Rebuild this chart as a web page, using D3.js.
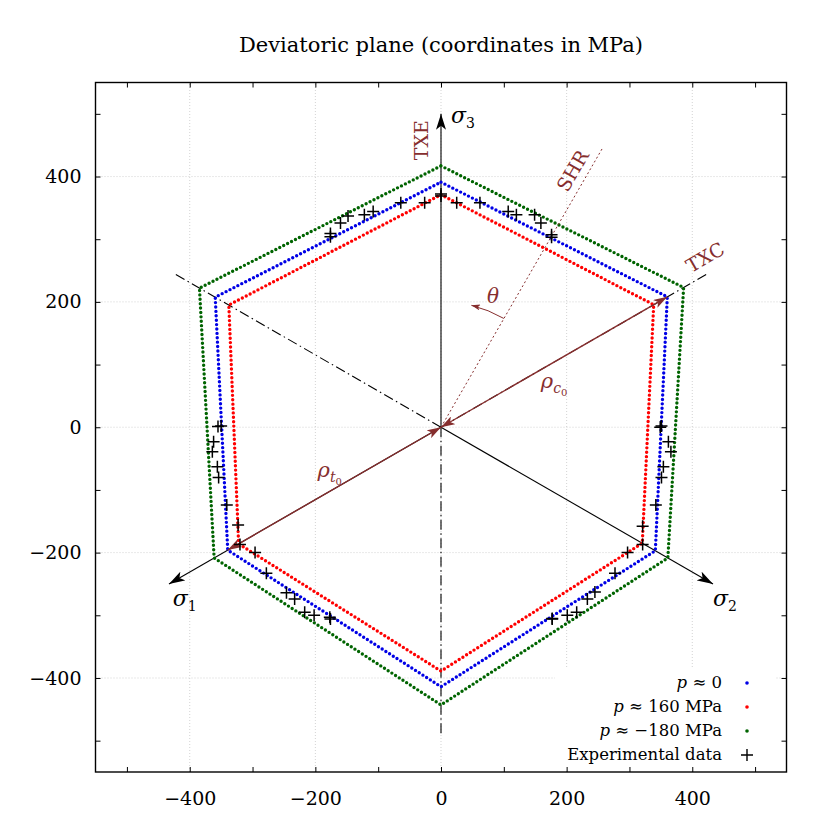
<!DOCTYPE html>
<html>
<head>
<meta charset="utf-8">
<script src="https://cdn.jsdelivr.net/npm/d3@7"></script>
<style>
  body { margin: 0; background: #fff; }
  text { font-family: "DejaVu Serif", "Liberation Serif", serif; }
</style>
</head>
<body>
<div id="chart"></div>
<script>
// directions of the hexagon vertices (deg, counter-clockwise from +x)
const vertexAngles = [90, 30, -30, -90, -150, 150];
// deviatoric radius at each vertex (MPa)
const rhoP0 = [391, 416, 394, 414, 392, 415];
const rhoP160 = [371, 391, 370, 389, 372, 390];
const rhoPm180 = [417, 446, 417, 443, 417, 444];

// experimental points (MPa)
const expX = [-176, -176, -160, -148, -122, -108, -64, -26, 0, 0, 25, 62, 107, 120, 149, 159, 176, 176,
  -355, -350, -362, -364, -356, -354, -341, -323, -320, -296,
  -278, -246, -233, -217, -202, -177, -176,
  351, 349, 362, 366, 354, 351, 342, 321, 321, 297,
  277, 245, 233, 216, 201, 177, 177];
const expY = [309, 304, 326, 337, 339, 344, 358, 358, 372, 369, 358, 358, 344, 339, 339, 326, 307, 303,
  1, 2, -23, -39, -63, -80, -124, -156, -187, -200,
  -233, -264, -274, -295, -300, -303, -306,
  2, 0, -23, -39, -63, -80, -124, -158, -187, -200,
  -233, -263, -274, -295, -300, -305, -306];

const xTicks = [-500, -400, -300, -200, -100, 0, 100, 200, 300, 400, 500];
const gridTicks = [-400, -200, 0, 200, 400];
const legendLabels = ['p ≈ 0', 'p ≈ 160 MPa', 'p ≈ −180 MPa', 'Experimental data'];
const seriesColors = ['#0000e6', '#ff0000', '#006400'];

const W = 831, H = 831;
const margin = {top: 82.5, right: 44.5, bottom: 59, left: 95.5};
const darkred = '#862e2e';

const svg = d3.select('#chart').append('svg')
  .attr('width', W).attr('height', H);

const x = d3.scaleLinear().domain([-550, 550]).range([margin.left, W - margin.right]);
const y = d3.scaleLinear().domain([-550, 550]).range([H - margin.bottom, margin.top]);
const rad = d => d * Math.PI / 180;
const polar = (r, a) => [r * Math.cos(rad(a)), r * Math.sin(rad(a))];

// markers
const defs = svg.append('defs');
function arrowMarker(id, color, len, wid) {
  defs.append('marker')
    .attr('id', id)
    .attr('viewBox', `0 ${-wid/2} ${len} ${wid}`)
    .attr('refX', len).attr('refY', 0)
    .attr('markerWidth', len).attr('markerHeight', wid)
    .attr('markerUnits', 'userSpaceOnUse')
    .attr('orient', 'auto-start-reverse')
    .append('path')
      .attr('d', `M0,${-wid/2}L${len},0L0,${wid/2}L${len*0.25},0Z`)
      .attr('fill', color);
}
arrowMarker('blackArrow', '#000', 16, 10);
arrowMarker('redArrow', darkred, 14, 9);
arrowMarker('redArrowSmall', darkred, 9, 6);

// grid
const grid = svg.append('g').attr('stroke', '#c8c8c8').attr('stroke-width', 0.8)
  .attr('stroke-dasharray', '1 2');
grid.selectAll('.gx').data(gridTicks).join('line')
  .attr('x1', d => x(d)).attr('x2', d => x(d))
  .attr('y1', y(-550)).attr('y2', y(550));
grid.selectAll('.gy').data(gridTicks).join('line')
  .attr('y1', d => y(d)).attr('y2', d => y(d))
  .attr('x1', x(-550)).attr('x2', x(550));

// principal stress axes: solid positive half, dash-dot negative half
const axisDirs = [{a: 90, name: '3'}, {a: 210, name: '1'}, {a: 330, name: '2'}];
const axg = svg.append('g');
axisDirs.forEach(ad => {
  const [px, py] = polar(500, ad.a);
  axg.append('line')
    .attr('x1', x(0)).attr('y1', y(0)).attr('x2', x(px)).attr('y2', y(py))
    .attr('stroke', '#000').attr('stroke-width', 1.1)
    .attr('marker-end', 'url(#blackArrow)');
  const [nx, ny] = polar(-492, ad.a);
  axg.append('line')
    .attr('x1', x(0)).attr('y1', y(0)).attr('x2', x(nx)).attr('y2', y(ny))
    .attr('stroke', '#000').attr('stroke-width', 1.1)
    .attr('stroke-dasharray', '10 3.5 1.5 3.5');
});

// yield surfaces as dotted closed lines through the vertices
const line = d3.line().x(d => x(d[0])).y(d => y(d[1])).curve(d3.curveLinearClosed);
const series = [rhoP0, rhoP160, rhoPm180];
svg.append('g').selectAll('path').data(series).join('path')
  .attr('d', rho => line(rho.map((r, i) => polar(r, vertexAngles[i]))))
  .attr('fill', 'none')
  .attr('stroke', (d, i) => seriesColors[i])
  .attr('stroke-width', 3.4)
  .attr('stroke-linecap', 'round')
  .attr('stroke-dasharray', '0 4.4');

// annotations in dark red
const ann = svg.append('g');
const [shx, shy] = polar(516, 60);
ann.append('line')
  .attr('x1', x(0)).attr('y1', y(0)).attr('x2', x(shx)).attr('y2', y(shy))
  .attr('stroke', darkred).attr('stroke-width', 1).attr('stroke-dasharray', '2 2.5');

const [cx, cy] = polar(rhoP0[1], 30);
ann.append('line')
  .attr('x1', x(0)).attr('y1', y(0)).attr('x2', x(cx)).attr('y2', y(cy))
  .attr('stroke', darkred).attr('stroke-width', 1.4)
  .attr('marker-start', 'url(#redArrow)').attr('marker-end', 'url(#redArrow)');
const [tx, ty] = polar(rhoP0[4], 210);
ann.append('line')
  .attr('x1', x(0)).attr('y1', y(0)).attr('x2', x(tx)).attr('y2', y(ty))
  .attr('stroke', darkred).attr('stroke-width', 1.4)
  .attr('marker-start', 'url(#redArrow)').attr('marker-end', 'url(#redArrow)');

// theta arc
const rArc = x(200) - x(0);
const p = d3.path();
p.arc(x(0), y(0), rArc, -rad(60), -rad(76), true);
ann.append('path').attr('d', p.toString())
  .attr('fill', 'none').attr('stroke', darkred).attr('stroke-width', 1)
  .attr('marker-end', 'url(#redArrowSmall)');

function addLabel(g, pos, rot, parts, size, color, anchor) {
  const t = g.append('text')
    .attr('transform', `translate(${x(pos[0])},${y(pos[1])}) rotate(${rot})`)
    .attr('text-anchor', anchor || 'middle')
    .attr('fill', color)
    .attr('font-size', size);
  parts.forEach(pt => {
    const s = t.append('tspan').text(pt.t);
    if (pt.it) s.attr('font-style', 'italic');
    if (pt.fs) s.attr('font-size', pt.fs);
    if (pt.dy) s.attr('dy', pt.dy);
  });
  return t;
}
addLabel(ann, [-20, 458], -90, [{t: 'TXE'}], 19, darkred);
addLabel(ann, [426, 262], -30, [{t: 'TXC'}], 19, darkred);
addLabel(ann, [219, 404], -60, [{t: 'SHR'}], 19, darkred);
addLabel(ann, [83, 199], 0, [{t: 'θ', it: true}], 20, darkred);
addLabel(ann, [180, 62], 0, [{t: 'ρ', it: true}, {t: 'c', it: true, fs: 14, dy: 5}, {t: '0', fs: 10, dy: 3}], 21, darkred);
addLabel(ann, [-177, -79], 0, [{t: 'ρ', it: true}, {t: 't', it: true, fs: 14, dy: 5}, {t: '0', fs: 10, dy: 3}], 21, darkred);

// sigma labels
addLabel(svg, [16, 486], 0, [{t: 'σ', it: true}, {t: '3', fs: 14, dy: 5}], 22, '#000', 'start');
addLabel(svg, [-427, -285], 0, [{t: 'σ', it: true}, {t: '1', fs: 14, dy: 5}], 22, '#000', 'start');
addLabel(svg, [433, -285], 0, [{t: 'σ', it: true}, {t: '2', fs: 14, dy: 5}], 22, '#000', 'start');

// experimental data
const expData = expX.map((v, i) => [v, expY[i]]);
svg.append('g').selectAll('path').data(expData).join('path')
  .attr('d', d => `M${x(d[0]) - 6},${y(d[1])}h12M${x(d[0])},${y(d[1]) - 6}v12`)
  .attr('stroke', '#000').attr('stroke-width', 1.5);

// legend
const lg = svg.append('g');
lg.append('rect').attr('x', 555).attr('y', 668).attr('width', 220).attr('height', 103)
  .attr('fill', '#fff');
const legendRows = lg.selectAll('g').data(legendLabels).join('g')
  .attr('transform', (d, i) => `translate(722,${688 + i * 24})`);
legendRows.each(function(d, i) {
  const g = d3.select(this);
  const t = g.append('text').attr('text-anchor', 'end').attr('font-size', 16.5);
  if (d.startsWith('p')) {
    t.append('tspan').attr('font-style', 'italic').text('p');
    t.append('tspan').text(d.slice(1));
  } else {
    t.text(d);
  }
  if (i < 3) {
    g.append('circle').attr('cx', 25).attr('cy', -5).attr('r', 1.8).attr('fill', seriesColors[i]);
  } else {
    g.append('path').attr('d', 'M19,-5h12M25,-11v12').attr('stroke', '#000').attr('stroke-width', 1.4);
  }
});

// frame and ticks
const tickFmt = d => (d % 200 === 0 && Math.abs(d) < 500) ? d3.format('')(d) : '';
const axB = svg.append('g').attr('transform', `translate(0,${y(-550)})`)
  .call(d3.axisBottom(x).tickValues(xTicks).tickSizeInner(-5).tickSizeOuter(0).tickPadding(20).tickFormat(tickFmt));
const axT = svg.append('g').attr('transform', `translate(0,${y(550)})`)
  .call(d3.axisTop(x).tickValues(xTicks).tickSizeInner(-5).tickSizeOuter(0).tickFormat(''));
const axL = svg.append('g').attr('transform', `translate(${x(-550)},0)`)
  .call(d3.axisLeft(y).tickValues(xTicks).tickSizeInner(-5).tickSizeOuter(0).tickPadding(14).tickFormat(tickFmt));
const axR = svg.append('g').attr('transform', `translate(${x(550)},0)`)
  .call(d3.axisRight(y).tickValues(xTicks).tickSizeInner(-5).tickSizeOuter(0).tickFormat(''));
[axB, axT, axL, axR].forEach(a => {
  a.select('.domain').remove();
  a.selectAll('line').attr('stroke', '#000').attr('stroke-width', 1);
  a.selectAll('text').attr('font-family', '"DejaVu Serif", serif').attr('font-size', 19).attr('fill', '#000');
});
axB.selectAll('text').attr('dy', '0.71em');
svg.append('rect')
  .attr('x', x(-550)).attr('y', y(550))
  .attr('width', x(550) - x(-550)).attr('height', y(-550) - y(550))
  .attr('fill', 'none').attr('stroke', '#000').attr('stroke-width', 1.4);

// title
svg.append('text')
  .attr('x', 441).attr('y', 52)
  .attr('text-anchor', 'middle')
  .attr('font-size', 21)
  .text('Deviatoric plane (coordinates in MPa)');
</script>
</body>
</html>
